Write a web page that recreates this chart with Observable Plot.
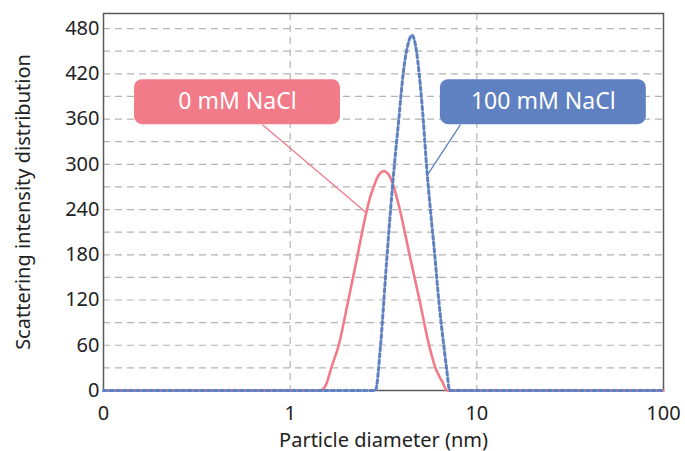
<!DOCTYPE html>
<html>
<head>
<meta charset="utf-8">
<script src="https://cdn.jsdelivr.net/npm/d3@7"></script>
<script src="https://cdn.jsdelivr.net/npm/@observablehq/plot@0.6"></script>
<style>
  html, body { margin: 0; padding: 0; background: #fff; }
</style>
</head>
<body>
<div id="chart"></div>
<script>
// Particle diameter (nm) and scattering intensity, 0 mM NaCl
const redD = [0.1, 1.42, 1.50, 1.57, 1.66, 1.82, 2.05, 2.30, 2.42, 2.57, 2.68, 2.80, 2.94, 3.17, 3.43, 3.59, 3.85, 4.36, 4.93, 5.55, 6.0, 6.52, 6.93, 100];
const redV = [0, 0, 2, 10, 30, 60, 120, 180, 208, 238, 256, 270, 283, 291, 283, 270, 242, 180, 120, 60, 30, 12, 0, 0];
// 100 mM NaCl
const blueD = [0.1, 2.86, 3.05, 3.24, 3.45, 3.62, 3.82, 4.03, 4.2, 4.5, 4.75, 4.91, 5.16, 5.37, 5.64, 5.95, 6.25, 6.65, 6.88, 7.16, 100];
const blueV = [0, 0, 60, 150, 240, 300, 360, 420, 450, 471, 450, 420, 360, 300, 240, 180, 120, 60, 30, 0, 0];

const seriesNames = ["0 mM NaCl", "100 mM NaCl"];
const seriesColors = ["#f27b89", "#5f80c1"];

const xTicks = [0.1, 1, 10, 100];
const xTickLabels = ["0", "1", "10", "100"];
const yTicks = [0, 60, 120, 180, 240, 300, 360, 420, 480];
const yGrid = [30, 60, 90, 120, 150, 180, 210, 240, 270, 300, 330, 360, 390, 420, 450, 480];
const xGrid = [1, 10];

// label boxes (data coords): x1, x2, y1, y2, text x, text y
const boxX1 = [0.1466, 6.38];
const boxX2 = [1.86, 80.9];
const boxY1 = [352.6, 352.6];
const boxY2 = [412.3, 412.3];
const boxTx = [0.522, 22.7];
const boxTy = [382.5, 382.5];
// leader lines
const leadX1 = [0.711, 8.17];
const leadY1 = [352.6, 352.6];
const leadX2 = [2.55, 5.46];
const leadY2 = [236, 286.7];

const red = redD.map((d, i) => ({d, v: redV[i]}));
const blue = blueD.map((d, i) => ({d, v: blueV[i]}));
const boxes = seriesNames.map((name, i) => ({
  name, color: seriesColors[i],
  x1: boxX1[i], x2: boxX2[i], y1: boxY1[i], y2: boxY2[i],
  tx: boxTx[i], ty: boxTy[i],
  lx1: leadX1[i], ly1: leadY1[i], lx2: leadX2[i], ly2: leadY2[i]
}));

const chart = Plot.plot({
  width: 685,
  height: 451,
  marginTop: 13,
  marginLeft: 103,
  marginRight: 22,
  marginBottom: 61,
  style: { fontFamily: "'Noto Sans', sans-serif", fontSize: "20px", color: "#222", background: "#fff" },
  x: { type: "log", domain: [0.1, 100] },
  y: { domain: [0, 500] },
  marks: [
    Plot.ruleY(yGrid, { stroke: "#b4b4b4", strokeWidth: 1.2, strokeDasharray: "7,5" }),
    Plot.ruleX(xGrid, { stroke: "#b4b4b4", strokeWidth: 1.2, strokeDasharray: "7,5" }),
    Plot.axisY(yTicks, {
      tickSize: 0, tickPadding: 4, fontSize: 20,
      label: "Scattering intensity distribution", labelAnchor: "center", labelArrow: "none", labelOffset: 88
    }),
    Plot.axisX(xTicks, {
      tickSize: 0, tickPadding: 15, fontSize: 20,
      tickFormat: d => xTickLabels[xTicks.indexOf(d)],
      label: "Particle diameter (nm)", labelAnchor: "center", labelArrow: "none", labelOffset: 56
    }),
    Plot.frame({ stroke: "#5a5a5a", strokeWidth: 1.5 }),
    Plot.line(red, { x: "d", y: "v", curve: "monotone-x", stroke: seriesColors[0], strokeWidth: 2.6 }),
    Plot.line(blue, { x: "d", y: "v", curve: "monotone-x", stroke: seriesColors[1], strokeWidth: 3, strokeDasharray: "3.5,3" }),
    Plot.link(boxes, { x1: "lx1", y1: "ly1", x2: "lx2", y2: "ly2", stroke: "color", strokeWidth: 1.3 }),
    Plot.rect(boxes, { x1: "x1", x2: "x2", y1: "y1", y2: "y2", fill: "color", rx: 8 }),
    Plot.text(boxes, { x: "tx", y: "ty", text: "name", fill: "white", fontSize: 23 })
  ]
});

document.getElementById("chart").appendChild(chart);
</script>
</body>
</html>
